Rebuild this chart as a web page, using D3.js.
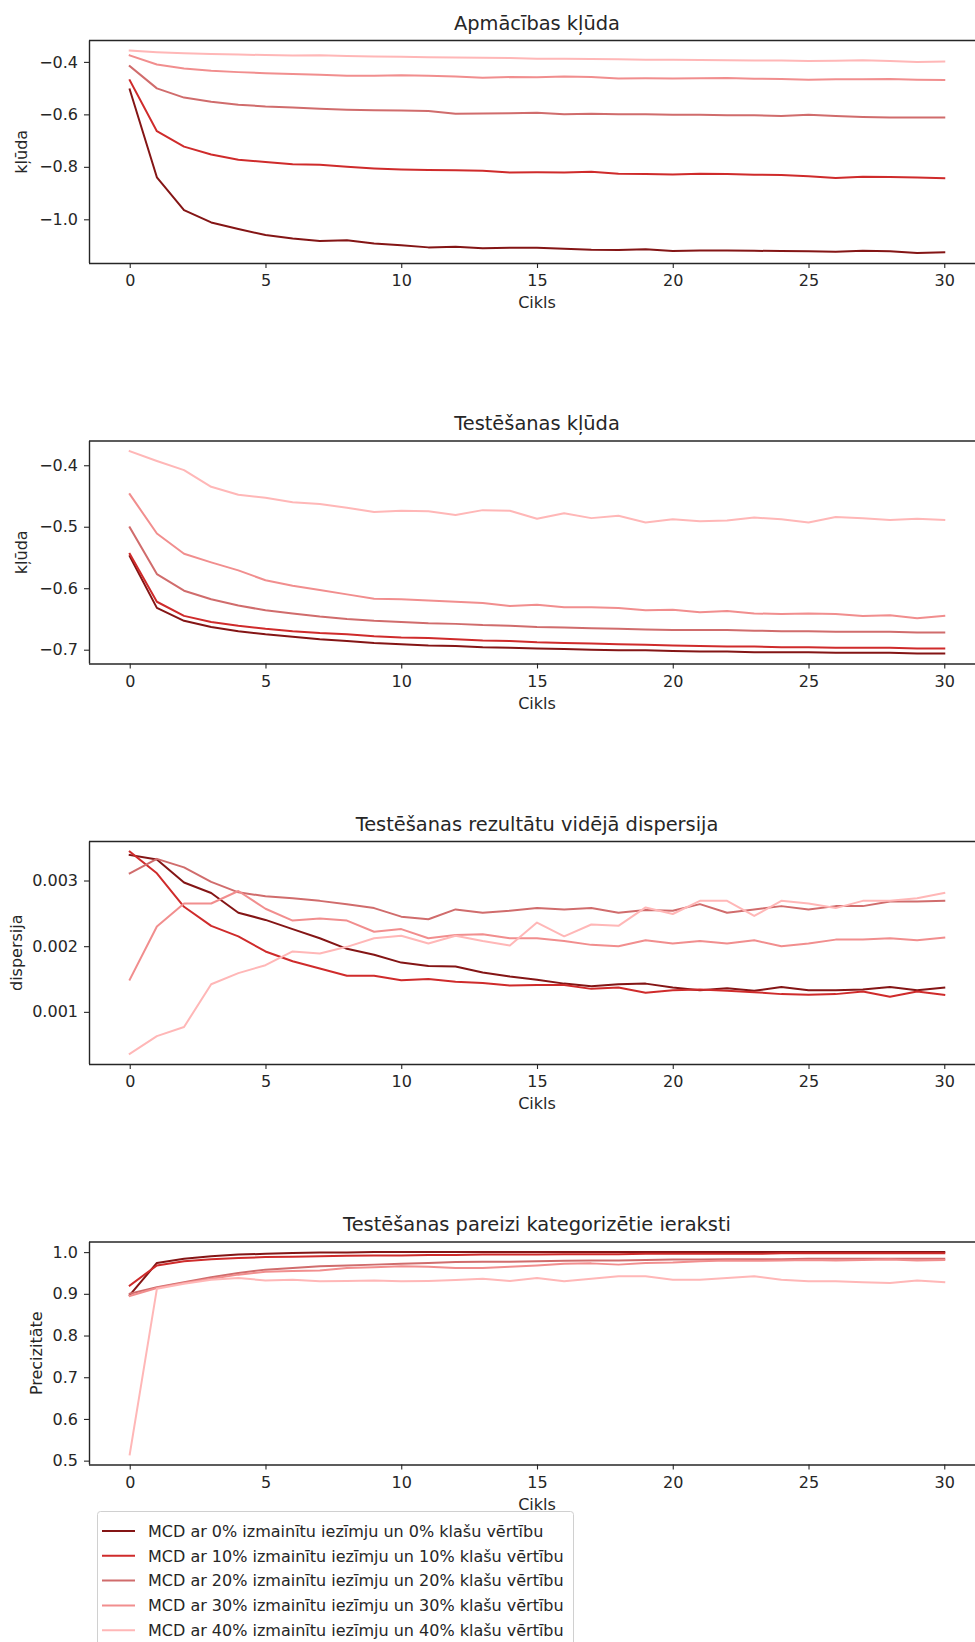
<!DOCTYPE html>
<html><head><meta charset="utf-8">
<script src="https://cdn.jsdelivr.net/npm/d3@7"></script>
<style>
body{margin:0;background:#fff}
svg{display:block}
text{font-family:"DejaVu Sans",sans-serif;fill:#262626}
</style>
</head><body><div id="chart"></div>
<script>
// ---------- data ----------
const epochs = [0,1,2,3,4,5,6,7,8,9,10,11,12,13,14,15,16,17,18,19,20,21,22,23,24,25,26,27,28,29,30];
const seriesNames = [
  "MCD ar 0% izmainītu iezīmju un 0% klašu vērtību",
  "MCD ar 10% izmainītu iezīmju un 10% klašu vērtību",
  "MCD ar 20% izmainītu iezīmju un 20% klašu vērtību",
  "MCD ar 30% izmainītu iezīmju un 30% klašu vērtību",
  "MCD ar 40% izmainītu iezīmju un 40% klašu vērtību"
];
const seriesColors = ["#841515", "#cf2b2b", "#d06c6c", "#f18e8e", "#ffb7b7"];

const panelTitles = ["Apmācības kļūda", "Testēšanas kļūda", "Testēšanas rezultātu vidējā dispersija", "Testēšanas pareizi kategorizētie ieraksti"];
const panelYLabels = ["kļūda", "kļūda", "dispersija", "Precizitāte"];
const xLabel = "Cikls";
const xTicks = [0,5,10,15,20,25,30];
const yTicks1 = [-1.0,-0.8,-0.6,-0.4];
const yTicks2 = [-0.7,-0.6,-0.5,-0.4];
const yTicks3 = [0.001,0.002,0.003];
const yTicks4 = [0.5,0.6,0.7,0.8,0.9,1.0];

// Panel 1: training loss
const train0 = [-0.505,-0.840,-0.965,-1.012,-1.037,-1.060,-1.073,-1.083,-1.080,-1.092,-1.099,-1.107,-1.105,-1.110,-1.108,-1.108,-1.112,-1.116,-1.117,-1.114,-1.121,-1.119,-1.119,-1.120,-1.121,-1.122,-1.124,-1.120,-1.122,-1.128,-1.126];
const train1 = [-0.470,-0.664,-0.723,-0.753,-0.773,-0.782,-0.790,-0.792,-0.800,-0.806,-0.810,-0.812,-0.813,-0.815,-0.822,-0.821,-0.822,-0.819,-0.826,-0.827,-0.829,-0.826,-0.827,-0.830,-0.831,-0.836,-0.843,-0.838,-0.839,-0.841,-0.843];
const train2 = [-0.416,-0.501,-0.536,-0.552,-0.563,-0.570,-0.574,-0.579,-0.582,-0.584,-0.585,-0.587,-0.598,-0.597,-0.596,-0.594,-0.600,-0.598,-0.600,-0.600,-0.601,-0.601,-0.603,-0.603,-0.606,-0.601,-0.606,-0.610,-0.612,-0.612,-0.612];
const train3 = [-0.375,-0.410,-0.425,-0.434,-0.439,-0.443,-0.446,-0.449,-0.453,-0.453,-0.451,-0.453,-0.456,-0.460,-0.458,-0.459,-0.456,-0.458,-0.463,-0.462,-0.463,-0.462,-0.461,-0.464,-0.465,-0.468,-0.466,-0.466,-0.465,-0.468,-0.469];
const train4 = [-0.357,-0.363,-0.367,-0.370,-0.372,-0.374,-0.376,-0.375,-0.378,-0.379,-0.380,-0.382,-0.383,-0.384,-0.385,-0.388,-0.388,-0.389,-0.390,-0.392,-0.392,-0.393,-0.394,-0.395,-0.395,-0.397,-0.396,-0.394,-0.397,-0.400,-0.399];

// Panel 2: test loss
const test0 = [-0.548,-0.632,-0.653,-0.663,-0.670,-0.675,-0.679,-0.683,-0.686,-0.689,-0.691,-0.693,-0.694,-0.696,-0.697,-0.698,-0.699,-0.700,-0.701,-0.701,-0.702,-0.703,-0.703,-0.704,-0.704,-0.704,-0.705,-0.705,-0.705,-0.706,-0.706];
const test1 = [-0.544,-0.622,-0.645,-0.655,-0.661,-0.666,-0.670,-0.673,-0.675,-0.678,-0.680,-0.681,-0.683,-0.685,-0.686,-0.688,-0.689,-0.690,-0.691,-0.692,-0.693,-0.694,-0.695,-0.695,-0.696,-0.696,-0.697,-0.697,-0.697,-0.698,-0.698];
const test2 = [-0.501,-0.577,-0.604,-0.618,-0.628,-0.636,-0.641,-0.646,-0.650,-0.653,-0.655,-0.657,-0.658,-0.660,-0.661,-0.663,-0.664,-0.665,-0.666,-0.667,-0.668,-0.668,-0.668,-0.669,-0.670,-0.670,-0.671,-0.671,-0.671,-0.672,-0.672];
const test3 = [-0.447,-0.511,-0.544,-0.558,-0.571,-0.587,-0.596,-0.603,-0.610,-0.617,-0.618,-0.620,-0.622,-0.624,-0.629,-0.627,-0.631,-0.631,-0.632,-0.636,-0.635,-0.639,-0.637,-0.641,-0.642,-0.641,-0.642,-0.645,-0.644,-0.649,-0.645];
const test4 = [-0.377,-0.393,-0.408,-0.435,-0.448,-0.453,-0.460,-0.463,-0.469,-0.476,-0.474,-0.475,-0.481,-0.473,-0.474,-0.487,-0.478,-0.486,-0.482,-0.493,-0.488,-0.491,-0.490,-0.485,-0.488,-0.493,-0.484,-0.486,-0.489,-0.487,-0.489];

// Panel 3: mean dispersion of test results
const disp0 = [0.00339,0.00332,0.00297,0.00281,0.00251,0.00240,0.00226,0.00212,0.00196,0.00187,0.00175,0.00170,0.00169,0.00160,0.00154,0.00149,0.00143,0.00139,0.00142,0.00143,0.00137,0.00133,0.00136,0.00132,0.00138,0.00133,0.00133,0.00134,0.00138,0.00133,0.00137];
const disp1 = [0.00344,0.00311,0.00260,0.00231,0.00215,0.00192,0.00177,0.00166,0.00155,0.00155,0.00148,0.00150,0.00146,0.00144,0.00140,0.00141,0.00141,0.00135,0.00137,0.00129,0.00133,0.00134,0.00132,0.00130,0.00127,0.00126,0.00127,0.00131,0.00123,0.00131,0.00126];
const disp2 = [0.00311,0.00333,0.00320,0.00298,0.00282,0.00276,0.00273,0.00269,0.00264,0.00258,0.00245,0.00241,0.00256,0.00251,0.00254,0.00258,0.00256,0.00258,0.00251,0.00255,0.00254,0.00264,0.00251,0.00256,0.00261,0.00256,0.00261,0.00261,0.00268,0.00268,0.00269];
const disp3 = [0.00149,0.00230,0.00265,0.00265,0.00284,0.00257,0.00239,0.00242,0.00239,0.00222,0.00226,0.00212,0.00217,0.00218,0.00212,0.00212,0.00208,0.00202,0.00200,0.00209,0.00204,0.00208,0.00204,0.00209,0.00200,0.00204,0.00210,0.00210,0.00212,0.00209,0.00213];
const disp4 = [0.00036,0.00063,0.00077,0.00142,0.00159,0.00171,0.00192,0.00189,0.00199,0.00212,0.00216,0.00204,0.00216,0.00208,0.00201,0.00236,0.00215,0.00233,0.00231,0.00259,0.00249,0.00269,0.00269,0.00246,0.00269,0.00265,0.00258,0.00269,0.00269,0.00273,0.00281];

// Panel 4: test accuracy
const acc0 = [0.897,0.974,0.984,0.990,0.994,0.996,0.998,0.999,0.999,1.000,1.000,1.000,1.000,1.000,1.000,1.000,1.000,1.000,1.000,1.000,1.000,1.000,1.000,1.000,1.000,1.000,1.000,1.000,1.000,1.000,1.000];
const acc1 = [0.920,0.968,0.978,0.983,0.986,0.988,0.989,0.990,0.991,0.992,0.992,0.993,0.993,0.994,0.994,0.994,0.995,0.995,0.995,0.996,0.996,0.996,0.996,0.996,0.997,0.997,0.997,0.997,0.997,0.997,0.997];
const acc2 = [0.900,0.916,0.928,0.940,0.950,0.958,0.962,0.966,0.968,0.970,0.972,0.974,0.976,0.977,0.977,0.978,0.979,0.980,0.980,0.981,0.982,0.982,0.983,0.983,0.983,0.984,0.984,0.984,0.984,0.984,0.984];
const acc3 = [0.895,0.914,0.926,0.936,0.946,0.953,0.955,0.956,0.962,0.964,0.966,0.965,0.962,0.962,0.965,0.968,0.972,0.973,0.970,0.974,0.975,0.978,0.980,0.979,0.980,0.981,0.980,0.981,0.982,0.980,0.981];
const acc4 = [0.515,0.912,0.924,0.934,0.938,0.932,0.934,0.930,0.931,0.932,0.930,0.931,0.933,0.936,0.931,0.938,0.930,0.936,0.942,0.942,0.934,0.934,0.938,0.942,0.934,0.930,0.930,0.928,0.926,0.932,0.928];

// ---------- layout ----------
const W = 975, H = 1642;
const panels = [
  {series:[train0,train1,train2,train3,train4], yTicks:yTicks1, fmt:d3.format(".1f"), top:40.5, ylabX:21},
  {series:[test0,test1,test2,test3,test4], yTicks:yTicks2, fmt:d3.format(".1f"), top:441, ylabX:21},
  {series:[disp0,disp1,disp2,disp3,disp4], yTicks:yTicks3, fmt:d3.format(".3f"), top:841.5, ylabX:16},
  {series:[acc0,acc1,acc2,acc3,acc4], yTicks:yTicks4, fmt:d3.format(".1f"), top:1242, ylabX:36}
];
const axLeft = 89, axRight = 985, axH = 222.5;
const tickFont = 16, titleFont = 19.4, legendFont = 16;

const svg = d3.select("#chart").append("svg").attr("width", W).attr("height", H);

const x = d3.scaleLinear().domain([-1.5, 31.5]).range([axLeft, axRight]);

panels.forEach((p, pi) => {
  const all = p.series.flat();
  const [mn, mx] = d3.extent(all);
  const m = (mx - mn) * 0.05;
  const y = d3.scaleLinear().domain([mn - m, mx + m]).range([p.top + axH, p.top]);
  const g = svg.append("g");

  // lines
  const line = d3.line().x((d, i) => x(epochs[i])).y(d => y(d));
  p.series.forEach((s, si) => {
    g.append("path").datum(s)
      .attr("fill", "none")
      .attr("stroke", seriesColors[si])
      .attr("stroke-width", 2)
      .attr("stroke-linejoin", "round")
      .attr("stroke-linecap", "square")
      .attr("d", line);
  });

  // frame
  const spineColor = "#262626";
  g.append("line").attr("x1", axLeft).attr("x2", axRight).attr("y1", p.top).attr("y2", p.top)
    .attr("stroke", spineColor).attr("stroke-width", 1.4);
  g.append("line").attr("x1", axRight).attr("x2", axRight).attr("y1", p.top).attr("y2", p.top + axH)
    .attr("stroke", spineColor).attr("stroke-width", 1.4);

  // axes
  const xa = g.append("g").attr("transform", `translate(0,${p.top + axH})`)
    .call(d3.axisBottom(x).tickValues(xTicks).tickFormat(d3.format("d")).tickSize(5).tickSizeOuter(0).tickPadding(7));
  const ya = g.append("g").attr("transform", `translate(${axLeft},0)`)
    .call(d3.axisLeft(y).tickValues(p.yTicks).tickFormat(p.fmt).tickSize(5).tickSizeOuter(0).tickPadding(6));
  [xa, ya].forEach(a => {
    a.select(".domain").attr("stroke", spineColor).attr("stroke-width", 1.4);
    a.selectAll(".tick line").attr("stroke", spineColor).attr("stroke-width", 1.1);
    a.selectAll(".tick text").attr("font-size", tickFont).attr("font-family", "DejaVu Sans").attr("fill", "#262626");
  });
  ya.select(".domain").attr("d", `M0.5,${p.top}V${p.top + axH}`);
  xa.select(".domain").attr("d", `M${axLeft},0.5H${axRight}`);

  // title
  g.append("text").attr("x", (axLeft + axRight) / 2).attr("y", p.top - 11)
    .attr("text-anchor", "middle").attr("font-size", titleFont).text(panelTitles[pi]);
  // x label
  g.append("text").attr("x", (axLeft + axRight) / 2).attr("y", p.top + axH + 45)
    .attr("text-anchor", "middle").attr("font-size", tickFont).text(xLabel);
  // y label
  g.append("text")
    .attr("transform", `translate(${p.ylabX},${p.top + axH / 2}) rotate(-90)`)
    .attr("text-anchor", "middle").attr("dy", "0.35em").attr("font-size", tickFont).text(panelYLabels[pi]);
});

// ---------- legend ----------
const lg = svg.append("g");
lg.append("rect").attr("x", 97.5).attr("y", 1511.5).attr("width", 476).attr("height", 150)
  .attr("rx", 3).attr("fill", "#fff").attr("fill-opacity", 0.8).attr("stroke", "#d0d0d0").attr("stroke-width", 1);
seriesNames.forEach((n, i) => {
  const yy = 1531 + i * 24.8;
  lg.append("line").attr("x1", 102).attr("x2", 135).attr("y1", yy).attr("y2", yy)
    .attr("stroke", seriesColors[i]).attr("stroke-width", 2);
  lg.append("text").attr("x", 148).attr("y", yy).attr("dy", "0.36em")
    .attr("font-size", legendFont).text(n);
});
</script>
</body></html>
